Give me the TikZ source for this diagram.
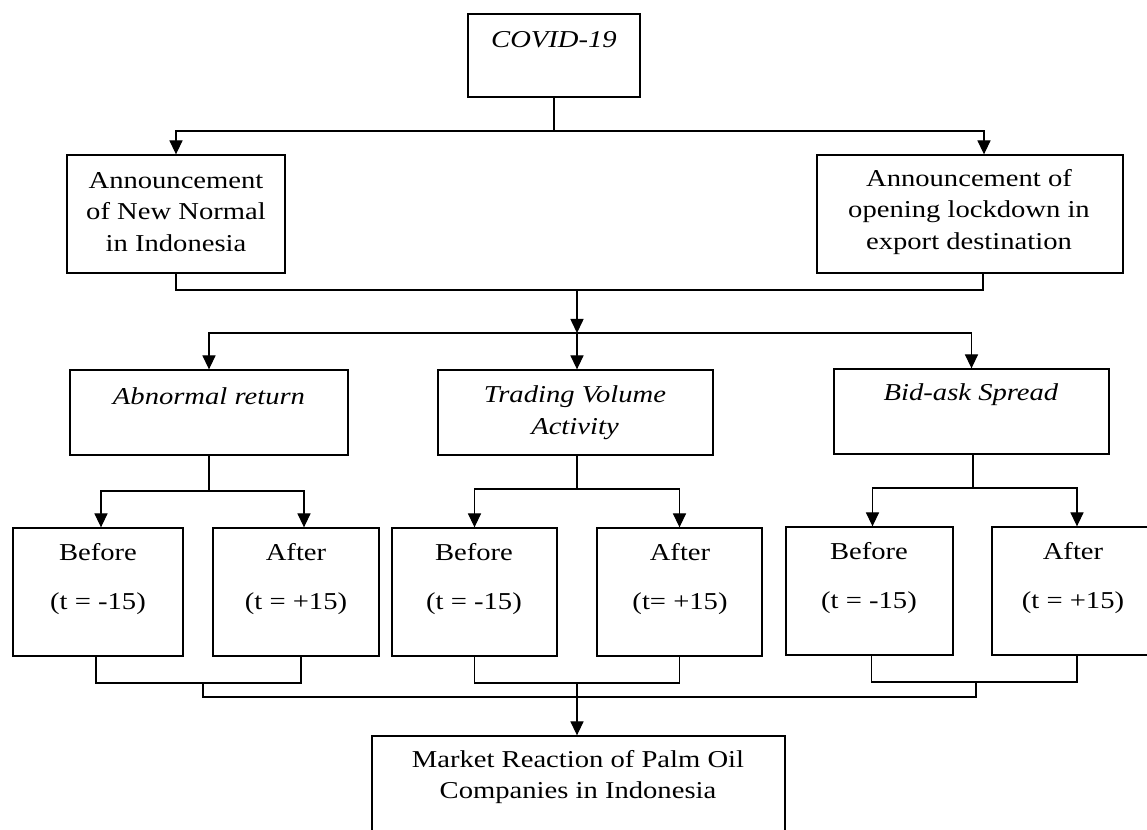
\documentclass[tikz,border=0pt]{standalone}
\usepackage{fontspec}
\setmainfont{Liberation Serif}[FakeStretch=1.18]
\usetikzlibrary{arrows.meta,fit,calc}
\begin{document}
\begin{tikzpicture}[x=.02cm,y=-.02cm,line width=.65pt,line cap=round,
  font=\fontsize{13.8}{18}\selectfont,
  box/.style={draw,line width=.75pt,inner sep=0pt},
  txt/.style={align=center,inner sep=0pt},
  arr/.style={-{Triangle[length=8pt,width=7.5pt]}}]
  \useasboundingbox (0,0) rectangle (1147,830);
  \clip (0,0) rectangle (1147,830);
  % the cause and the two announcements
  \node[box,fit={(468,14) (640,97)}] (cov) {};
  \node[txt] (covt) at (554,40) {\textit{COVID-19}};
  \node[box,fit={(67,155) (285,273)}] (ann1) {};
  \node[txt] (ann1t) at (176,212) {Announcement\\of New Normal\\in Indonesia};
  \node[box,fit={(817,155) (1123,273)}] (ann2) {};
  \node[txt] (ann2t) at (969,212) {Announcement of\\opening lockdown in\\export destination};
  % the three measures
  \node[box,fit={(70,370) (348,455)}] (ar) {};
  \node[txt] (art) at (209,396) {\textit{Abnormal return}};
  \node[box,fit={(438,370) (713,455)}] (tva) {};
  \node[txt] (tvat) at (575,413) {\textit{Trading Volume}\\\textit{Activity}};
  \node[box,fit={(834,369) (1109,454)}] (bas) {};
  \node[txt] (bast) at (971,395) {\textit{Bid-ask Spread}};
  % before and after windows
  \node[box,fit={(13,528) (183,656)}] (b1) {};
  \node[txt] (b1t) at (98,579) {Before\\[10pt](t = -15)};
  \node[box,fit={(213,528) (379,656)}] (a1) {};
  \node[txt] (a1t) at (296,579) {After\\[10pt](t = +15)};
  \node[box,fit={(392,528) (557,656)}] (b2) {};
  \node[txt] (b2t) at (474,579) {Before\\[10pt](t = -15)};
  \node[box,fit={(597,528) (762,656)}] (a2) {};
  \node[txt] (a2t) at (680,579) {After\\[10pt](t= +15)};
  \node[box,fit={(786,527) (953,655)}] (b3) {};
  \node[txt] (b3t) at (869,578) {Before\\[10pt](t = -15)};
  \node[box,fit={(992,527) (1156,655)}] (a3) {};
  \node[txt] (a3t) at (1073,578) {After\\[10pt](t = +15)};
  % the outcome
  \node[box,fit={(372,736) (785,850)}] (mkt) {};
  \node[txt] (mktt) at (578,777) {Market Reaction of Palm Oil\\Companies in Indonesia};
  % junctions of the connectors
  \coordinate (c1) at (554,131);
  \coordinate (c2) at (577,290);
  \coordinate (c3) at (577,333);
  \coordinate (d1) at (209,491);
  \coordinate (d2) at (577,489);
  \coordinate (d3) at (973,488);
  \coordinate (e1) at (203,683);
  \coordinate (e2) at (577,683);
  \coordinate (e3) at (976,682);
  \coordinate (e4) at (577,697);
  \draw (cov.south) -- (c1);
  \draw[arr] (c1) -| (ann1.north);
  \draw[arr] (c1) -| ($(ann2.north)+(14,0)$);
  \draw (ann1.south) |- (c2) -| ($(ann2.south)+(13,0)$);
  \draw[arr] (c2) -- (c3);
  \draw[arr] (c3) -| (ar.north);
  \draw[arr] (c3) -- (tva.north -| c3);
  \draw[arr] (c3) -| (bas.north);
  \draw (ar.south) -- (d1);
  \draw[arr] (d1) -| ($(b1.north)+(3,0)$);
  \draw[arr] (d1) -| ($(a1.north)+(8,0)$);
  \draw (tva.south -| d2) -- (d2);
  \draw[arr] (d2) -| (b2.north);
  \draw[arr] (d2) -| (a2.north);
  \draw (bas.south -| d3) -- (d3);
  \draw[arr] (d3) -| ($(b3.north)+(3,0)$);
  \draw[arr] (d3) -| ($(a3.north)+(3,0)$);
  \draw ($(b1.south)+(-2,0)$) |- (e1) -| ($(a1.south)+(5,0)$);
  \draw (b2.south) |- (e2) -| (a2.south);
  \draw ($(b3.south)+(2,0)$) |- (e3) -| ($(a3.south)+(3,0)$);
  \draw (e1) |- (e4) -| (e3);
  \draw[arr] (e2) -- (mkt.north -| e2);
\end{tikzpicture}
\end{document}
